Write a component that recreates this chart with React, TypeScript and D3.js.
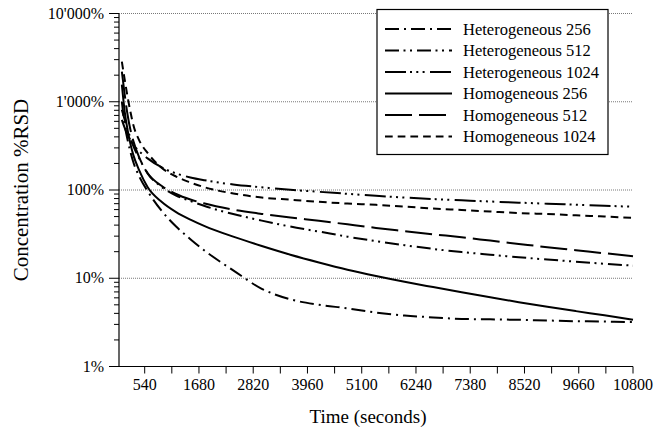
import React from "react";
import * as d3 from "d3";

const times = [60, 120, 180, 240, 300, 420, 600, 900, 1200, 1500, 1800, 2400, 3000, 3600, 4200, 4800, 5400, 6000, 6600, 7200, 7800, 8400, 9000, 9600, 10200, 10800];

const het256 = [1000, 548, 370, 270, 208, 144, 97.4, 57.7, 38.5, 27.7, 20.5, 12.3, 7.6, 5.77, 5.01, 4.56, 4.08, 3.78, 3.6, 3.46, 3.42, 3.38, 3.32, 3.26, 3.23, 3.19];
const het512 = [811, 624, 481, 390, 316, 231, 154, 108.2, 86.6, 75.0, 65.8, 53.4, 45.0, 38.5, 33.8, 29.6, 26.3, 23.7, 21.5, 19.8, 18.5, 17.3, 16.3, 15.4, 14.6, 13.9];
const het1024 = [624, 506, 422, 370, 325, 277, 228, 180, 154, 138.7, 128.9, 115.5, 107.3, 100.5, 95.4, 90.5, 85.9, 82.2, 79.0, 76.4, 74.0, 71.9, 69.9, 68.1, 66.3, 64.6];
const hom256 = [1561, 770, 481, 333, 250, 169, 108.2, 73.1, 56.2, 46.2, 39.0, 29.6, 23.2, 18.5, 15.1, 12.5, 10.6, 9.12, 7.94, 6.93, 6.08, 5.36, 4.75, 4.24, 3.8, 3.39];
const hom512 = [2192, 1201, 712, 481, 361, 237, 156, 111, 90.1, 78.0, 70.2, 60.0, 53.6, 48.7, 44.8, 40.8, 37.2, 34.2, 31.5, 29.1, 26.7, 24.5, 22.5, 20.8, 19.2, 17.8];
const hom1024 = [2848, 1778, 1140, 770, 548, 370, 263, 178, 142, 121.7, 107.3, 91.3, 82.2, 77.6, 73.4, 70.2, 67.9, 64.9, 61.6, 59.3, 57.0, 54.8, 53.4, 51.7, 50.0, 48.4];

const seriesNames = ["Heterogeneous 256", "Heterogeneous 512", "Heterogeneous 1024", "Homogeneous 256", "Homogeneous 512", "Homogeneous 1024"];
const seriesValues = [het256, het512, het1024, hom256, hom512, hom1024];
const seriesDash = ["14 5 2 5", "14 4.5 2 4.5 2 5", "21 4 2 4.3 2 4.3 2 5.4", "none", "27 7", "7.7 5"];

const xTickValues = [540, 1110, 1680, 2250, 2820, 3390, 3960, 4530, 5100, 5670, 6240, 6810, 7380, 7950, 8520, 9090, 9660, 10230, 10800];
const xLabelValues = [540, 1680, 2820, 3960, 5100, 6240, 7380, 8520, 9660, 10800];
const yMajor = [1, 10, 100, 1000, 10000];
const yLabels = ["1%", "10%", "100%", "1'000%", "10'000%"];
const yMinorMult = [2, 3, 4, 5, 6, 7, 8, 9];

const FONT = "'Liberation Serif', 'DejaVu Serif', serif";

export default function App() {
  const left = 119, right = 633, top = 13.5, bottom = 366.5;
  const x = d3.scaleLinear().domain([0, 10800]).range([left, right]);
  const y = d3.scaleLog().domain([1, 10000]).range([bottom, top]);
  const line = d3
    .line<number>()
    .x((_, i) => x(times[i]))
    .y((d) => y(d))
    .curve(d3.curveMonotoneX);

  const minor: number[] = [];
  yMajor.slice(0, 4).forEach((m) => yMinorMult.forEach((k) => minor.push(m * k)));

  const legX = 377, legY = 9.5, legW = 231, legH = 145;
  const rowY = (i: number) => 29 + i * 21.5;

  return (
    <svg width={656} height={430} style={{ position: "absolute", left: 0, top: 0, background: "#fff" }} fontFamily={FONT}>
      {yMajor.slice(1).map((v) => (
        <line key={"g" + v} x1={left} x2={right} y1={y(v)} y2={y(v)} stroke="#555" strokeWidth={0.8} strokeDasharray="1 1" />
      ))}
      {seriesValues.map((vals, i) => (
        <path key={"s" + i} d={line(vals) || ""} fill="none" stroke="#000" strokeWidth={2} strokeDasharray={seriesDash[i]} />
      ))}
      <line x1={left} x2={left} y1={top} y2={bottom} stroke="#000" strokeWidth={1.2} />
      <line x1={left} x2={right} y1={bottom} y2={bottom} stroke="#000" strokeWidth={1.2} />
      {yMajor.map((v) => (
        <line key={"ym" + v} x1={left - 10} x2={left} y1={y(v)} y2={y(v)} stroke="#000" strokeWidth={1} />
      ))}
      {minor.map((v) => (
        <line key={"yn" + v} x1={left - 5} x2={left} y1={y(v)} y2={y(v)} stroke="#000" strokeWidth={1} />
      ))}
      {yMajor.map((v, i) => (
        <text key={"yl" + v} x={left - 15} y={y(v) + 5} textAnchor="end" fontSize={16}>
          {yLabels[i]}
        </text>
      ))}
      {xTickValues.map((v) => (
        <line key={"xt" + v} x1={x(v)} x2={x(v)} y1={bottom} y2={bottom + 7} stroke="#000" strokeWidth={1} />
      ))}
      {xLabelValues.map((v) => (
        <text key={"xl" + v} x={x(v)} y={390} textAnchor="middle" fontSize={16}>
          {v}
        </text>
      ))}
      <text x={368} y={423} textAnchor="middle" fontSize={19}>
        Time (seconds)
      </text>
      <text transform={`translate(28,190) rotate(-90)`} textAnchor="middle" fontSize={21}>
        Concentration %RSD
      </text>
      <rect x={legX} y={legY} width={legW} height={legH} fill="#fff" stroke="#000" strokeWidth={1.2} />
      {seriesNames.map((n, i) => (
        <g key={"lg" + i}>
          <line x1={385} x2={452} y1={rowY(i)} y2={rowY(i)} stroke="#000" strokeWidth={2} strokeDasharray={seriesDash[i]} />
          <text x={463} y={rowY(i) + 5.5} fontSize={16.5}>
            {n}
          </text>
        </g>
      ))}
    </svg>
  );
}
